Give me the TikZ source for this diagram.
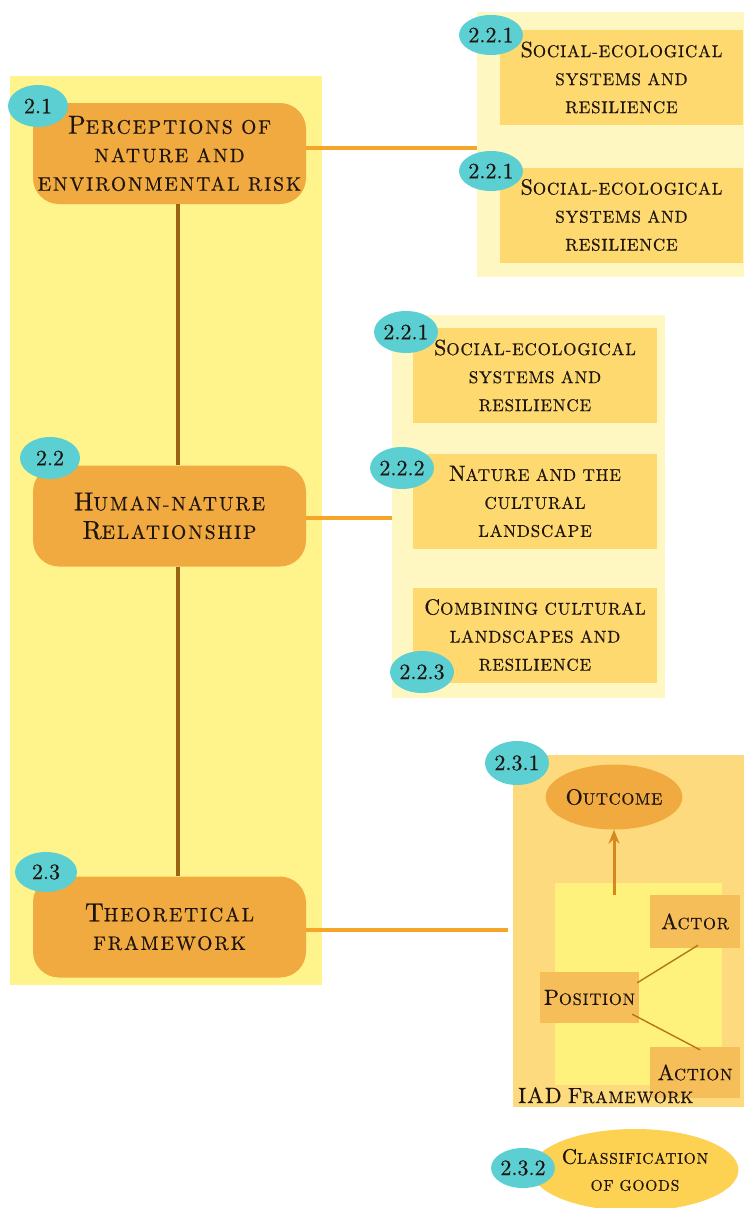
\documentclass[tikz,border=0pt]{standalone}
\usepackage{fontspec}
% spaced capitals; lower-case letters are set as smaller capitals
\newfontfamily\capsA{lmroman10-regular.otf}[LetterSpace=10, FakeBold=0.5]
\newfontfamily\capsB{lmroman10-regular.otf}[LetterSpace=5, FakeBold=0.5]
\newfontfamily\numfont{lmroman10-regular.otf}[FakeBold=0.5]
\newlength\inisize
\newcommand\I[1]{{\fontsize{\inisize}{\inisize}\selectfont #1}}
\usetikzlibrary{arrows.meta,shapes.geometric}

\definecolor{panelyellow}{HTML}{FFF38C}
\definecolor{palepanel}{HTML}{FFF7C2}
\definecolor{subfill}{HTML}{FDD970}
\definecolor{mainorange}{HTML}{F0AA40}
\definecolor{badgeteal}{HTML}{5CCFD2}
\definecolor{trunkbrown}{HTML}{9C6412}
\definecolor{linkorange}{HTML}{F5A628}
\definecolor{iadouter}{HTML}{FDDA7E}
\definecolor{iadinner}{HTML}{FFF27C}
\definecolor{iadbox}{HTML}{F6BE58}
\definecolor{arrowbrown}{HTML}{D6881E}
\definecolor{goodsfill}{HTML}{FDD152}
\definecolor{textdark}{HTML}{1E1410}

\tikzset{
  mainbox/.style={fill=mainorange, rounded corners=26pt, minimum width=273pt,
    minimum height=101pt, inner sep=0pt, align=center, text=textdark,
    font={\capsA\setlength\inisize{26pt}\fontsize{19.5}{28.5}\selectfont}},
  subbox/.style={fill=subfill, minimum width=243pt, minimum height=95pt,
    inner sep=0pt, align=center, text=textdark,
    font={\capsB\setlength\inisize{22pt}\fontsize{17}{28}\selectfont}},
  badge/.style={ellipse, fill=badgeteal, minimum width=60pt, minimum height=42pt,
    inner sep=0pt, text=textdark, font=\numfont\fontsize{22}{22}\selectfont},
  subbadge/.style={badge, minimum width=62pt, minimum height=42pt},
  iadfont/.style={font={\capsB\setlength\inisize{22pt}\fontsize{16.5}{22}\selectfont}},
  iadpart/.style={fill=iadbox, inner sep=0pt, text=textdark, iadfont},
  trunk/.style={draw=trunkbrown, line width=4pt},
  link/.style={draw=linkorange, line width=4pt},
  thinlink/.style={draw=arrowbrown!85!black, line width=1.4pt},
  backpanel/.style={inner sep=0pt},
}

\begin{document}
\begin{tikzpicture}[x=1pt, y=-1pt]
\useasboundingbox (0,0) rectangle (744,1208);

% background panels
\node (leftpanel) [backpanel, fill=panelyellow, minimum width=312pt, minimum height=909pt]
  at (166,530.5) {};
\node (toppanel) [backpanel, fill=palepanel, minimum width=267pt, minimum height=265pt]
  at (610.5,144.5) {};
\node (midpanel) [backpanel, fill=palepanel, minimum width=273pt, minimum height=383pt]
  at (528.5,506.5) {};
\node (iad) [backpanel, fill=iadouter, minimum width=231pt, minimum height=352pt]
  at (628.5,931) {};
\node (iadcore) [backpanel, fill=iadinner, minimum width=167pt, minimum height=202pt]
  at (638.5,984) {};

% main chapter boxes
\node (p21) [mainbox] at (169.5,153.5) {\I{P}ERCEPTIONS OF\\NATURE AND\\ENVIRONMENTAL RISK};
\node (p22) [mainbox] at (169.5,516) {\I{H}UMAN-NATURE\\\I{R}ELATIONSHIP};
\node (p23) [mainbox] at (169.5,927) {\I{T}HEORETICAL\\FRAMEWORK};

% trunk linking the chapter boxes
\draw[trunk] ([xshift=8.5pt]p21.south) -- ([xshift=8.5pt]p22.north);
\draw[trunk] ([xshift=8.5pt]p22.south) -- ([xshift=8.5pt]p23.north);

% links to the section groups
\draw[link] ([yshift=6pt]p21.east) -- ([yshift=6pt]p21.east -| toppanel.west);
\draw[link] ([yshift=-2pt]p22.east) -- ([yshift=-2pt]p22.east -| midpanel.west);
\coordinate (iadgap) at ([xshift=-5pt]iad.west);
\draw[link] ([yshift=-3pt]p23.east) -- ([yshift=-3pt]p23.east -| iadgap);

% upper section group
\node (s1) [subbox] at (621.5,77.5) {\I{S}OCIAL-ECOLOGICAL\\SYSTEMS AND\\RESILIENCE};
\node (s2) [subbox] at (621.5,215) {\I{S}OCIAL-ECOLOGICAL\\SYSTEMS AND\\RESILIENCE};

% middle section group
\node (m1) [subbox, minimum width=244pt] at (535,375.5) {\I{S}OCIAL-ECOLOGICAL\\SYSTEMS AND\\RESILIENCE};
\node (m2) [subbox, minimum width=244pt] at (535,501.5) {\I{N}ATURE AND THE\\CULTURAL\\LANDSCAPE};
\node (m3) [subbox, minimum width=244pt] at (535,635) {\I{C}OMBINING CULTURAL\\LANDSCAPES AND\\RESILIENCE};

% IAD framework
\node (outcome) [ellipse, fill=mainorange, minimum width=132pt, minimum height=65pt,
  inner sep=0pt, text=textdark, iadfont] at (614,797) {\I{O}UTCOME};
\coordinate (arrowfoot) at (614,895);
\draw[draw=arrowbrown, line width=3pt, -{Stealth[length=14pt, width=11pt]}]
  (arrowfoot) -- (outcome.south);
\node (actor) [iadpart, minimum width=90pt, minimum height=53pt] at (695,921.5) {\I{A}CTOR};
\node (position) [iadpart, minimum width=99pt, minimum height=51pt] at (589.5,997.5) {\I{P}OSITION};
\node (action) [iadpart, minimum width=90pt, minimum height=51pt] at (695,1072.5) {\I{A}CTION};
\draw[thinlink] ([shift={(-2,11)}]position.north east) -- ([shift={(3,-3)}]actor.south);
\draw[thinlink] ([shift={(-7,-9)}]position.south east) -- ([shift={(5,3)}]action.north);
\node (iadlabel) [anchor=base west, inner sep=0pt, text=textdark, iadfont]
  at (518,1103) {\I{IAD} \I{F}RAMEWORK};

% classification of goods
\node (goods) [ellipse, fill=goodsfill, minimum width=174pt, minimum height=82pt,
  inner sep=0pt, align=center, text=textdark,
  font={\capsB\setlength\inisize{21pt}\fontsize{15.5}{27}\selectfont}]
  at (635,1170) {\I{C}LASSIFICATION\\OF GOODS};

% section number badges
\node (b21) [badge] at (38,106) {2.1};
\node (b22) [badge] at (50,458) {2.2};
\node (b23) [badge, minimum width=62pt, minimum height=40pt] at (46,872) {2.3};
\node (b221a) [subbadge, minimum width=58pt, minimum height=40pt] at (491,35) {2.2.1};
\node (b221b) [subbadge, minimum width=58pt, minimum height=40pt] at (491,171) {2.2.1};
\node (b221c) [subbadge] at (406,332) {2.2.1};
\node (b222) [subbadge] at (402,468) {2.2.2};
\node (b223) [subbadge] at (422,672) {2.2.3};
\node (b231) [subbadge, minimum height=44pt] at (517,763) {2.3.1};
\node (b232) [subbadge, minimum width=59pt, minimum height=40pt] at (523,1168) {2.3.2};
\end{tikzpicture}
\end{document}
